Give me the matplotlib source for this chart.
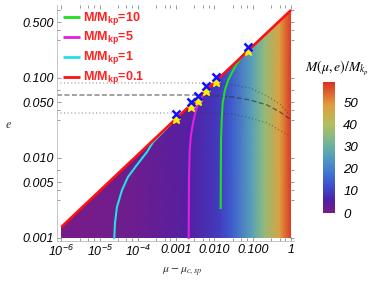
import numpy as np
import matplotlib
matplotlib.use("Agg")
import matplotlib.pyplot as plt
from matplotlib.colors import LinearSegmentedColormap
from matplotlib.patches import Polygon

plt.rcParams['mathtext.fontset'] = 'custom'
plt.rcParams['mathtext.rm'] = 'Liberation Sans:italic'
plt.rcParams['mathtext.it'] = 'Liberation Sans:italic'
plt.rcParams['mathtext.bf'] = 'Liberation Sans:bold'
plt.rcParams['font.family'] = ['Liberation Sans', 'DejaVu Sans']

# ---------------- data ----------------
# boundary (M/M_kp = 0.1 line)
boundary_mu = [1e-6, 1.0]
boundary_e = [0.00137, 0.708]

field_mu = [1e-6, 1e-5, 2.4e-5, 1e-4, 1e-3, 2.1e-3, 1e-2, 1.45e-2, 3e-2, 0.1, 0.2, 0.5, 1.0]
field_M = [0.3, 0.75, 1.0, 1.7, 4.0, 5.0, 9.0, 10.0, 15.0, 27.0, 36.0, 48.0, 59.0]

# contour curves
cyan_mu = [2.42e-5, 2.52e-5, 2.84e-5, 3.85e-5, 5.5e-5, 9.4e-5, 1.73e-4, 2.48e-4, 3.78e-4, 6.89e-4]
cyan_e = [0.001, 0.00154, 0.00244, 0.00398, 0.00579, 0.00818, 0.0119, 0.0158, 0.0194, 0.0259]

magenta_mu = [2.117e-3, 2.158e-3, 2.249e-3, 2.432e-3, 2.748e-3, 3.192e-3, 3.819e-3, 4.864e-3, 6.368e-3, 8.61e-3]
magenta_e = [0.001, 0.00531, 0.01259, 0.01939, 0.02738, 0.03758, 0.0487, 0.05957, 0.07178, 0.08292]

green_mu = [0.01452, 0.01479, 0.01542, 0.01637, 0.01879, 0.02291, 0.03097, 0.04111, 0.05546, 0.07638]
green_e = [0.00237, 0.01679, 0.02985, 0.0487, 0.07079, 0.09441, 0.1259, 0.1585, 0.1939, 0.235]

# dotted / dashed reference curves
dot1_mu = [7.7e-7, 9.7e-3, 0.0304, 0.0845, 0.235, 0.513, 0.935]
dot1_e = [0.0866, 0.0866, 0.0818, 0.075, 0.0595, 0.0473, 0.0345]
dash_mu = [7.7e-7, 4.18e-3, 0.0304, 0.0845, 0.235, 0.513, 0.935]
dash_e = [0.0613, 0.0613, 0.0579, 0.0531, 0.046, 0.0376, 0.0307]
dot2_mu = [7.7e-7, 0.0103, 0.0304, 0.0845, 0.235, 0.615, 0.935]
dot2_e = [0.0365, 0.0365, 0.0355, 0.0316, 0.0274, 0.0211, 0.0188]

# markers
cross_mu = [9.7e-4, 2.43e-3, 3.64e-3, 6.0e-3, 1.09e-2, 7.64e-2]
cross_e = [0.0355, 0.0506, 0.059, 0.080, 0.102, 0.242]
star_e = [0.0309, 0.0440, 0.0513, 0.0696, 0.0887, 0.215]

legend_labels = ['M/M$_{\\mathbf{kp}}$=10', 'M/M$_{\\mathbf{kp}}$=5',
                 'M/M$_{\\mathbf{kp}}$=1', 'M/M$_{\\mathbf{kp}}$=0.1']
legend_colors = ['#22dd22', '#e020e0', '#22e0e8', '#ff1010']

xticks = [1e-6, 1e-5, 1e-4, 1e-3, 1e-2, 1e-1, 1.0]
xticklabels = ['$10^{-6}$', '$10^{-5}$', '$10^{-4}$', '0.001', '0.010', '0.100', '1']
yticks = [0.001, 0.005, 0.01, 0.05, 0.1, 0.5]
yticklabels = ['0.001', '0.005', '0.010', '0.050', '0.100', '0.500']
cbar_ticks = [0, 10, 20, 30, 40, 50]
vmax = 59.5

# ---------------- colormap ----------------
cmap = LinearSegmentedColormap.from_list('mma_rainbow', [
    (0.00, (0.47, 0.11, 0.53)),
    (0.10, (0.30, 0.13, 0.66)),
    (0.20, (0.24, 0.30, 0.80)),
    (0.32, (0.26, 0.48, 0.82)),
    (0.45, (0.35, 0.64, 0.72)),
    (0.55, (0.48, 0.72, 0.56)),
    (0.68, (0.70, 0.75, 0.36)),
    (0.82, (0.88, 0.62, 0.24)),
    (1.00, (0.86, 0.19, 0.14)),
])

W, H = 374, 285
fig = plt.figure(figsize=(W / 100, H / 100), dpi=100)
ax_l, ax_r, ax_t, ax_b = 57, 294, 5, 241
ax = fig.add_axes([ax_l / W, 1 - ax_b / H, (ax_r - ax_l) / W, (ax_b - ax_t) / H])
ax.set_xscale('log')
ax.set_yscale('log')
ax.set_xlim(10 ** -6.112, 10 ** 0.076)
ax.set_ylim(10 ** -3.0375, 10 ** -0.0875)

# field
X = np.array(field_mu)
Y = np.array([0.001, 0.72])
C = np.tile(np.array(field_M), (2, 1))
mesh = ax.pcolormesh(X, Y, C, shading='gouraud', cmap=cmap, vmin=0, vmax=vmax, zorder=1)
clip = Polygon([(boundary_mu[0], 0.001), (boundary_mu[0], boundary_e[0]),
                (boundary_mu[1], boundary_e[1]), (boundary_mu[1], 0.001)],
               closed=True, transform=ax.transData, facecolor='none', edgecolor='none')
ax.add_patch(clip)
mesh.set_clip_path(clip)

# reference curves
ax.plot(dot1_mu, dot1_e, color='#333333', lw=0.8, ls=(0, (1, 2.2)), alpha=0.55, zorder=2)
ax.plot(dash_mu, dash_e, color='#333333', lw=0.9, ls=(0, (4, 2)), alpha=0.7, zorder=2)
ax.plot(dot2_mu, dot2_e, color='#333333', lw=0.8, ls=(0, (1, 2.2)), alpha=0.55, zorder=2)

# contours
ax.plot(cyan_mu, cyan_e, color=legend_colors[2], lw=1.5, zorder=3)
ax.plot(magenta_mu, magenta_e, color=legend_colors[1], lw=1.5, zorder=3)
ax.plot(green_mu, green_e, color=legend_colors[0], lw=1.5, zorder=3)
ax.plot(boundary_mu, boundary_e, color=legend_colors[3], lw=1.9, zorder=4, solid_capstyle='butt')

# markers
ax.plot(cross_mu, star_e, ls='none', marker='*', ms=6.5, color='#ffee00', mec='#ffee00', zorder=5)
ax.plot(cross_mu, cross_e, ls='none', marker='x', ms=5.5, mew=1.8, color='#1010ff', zorder=6)

# ticks
ax.set_xticks(xticks)
ax.set_xticklabels(xticklabels, fontsize=9, fontstyle='italic')
ax.set_yticks(yticks)
ax.set_yticklabels(yticklabels, fontsize=9, fontstyle='italic')
xminor = [m * 10.0 ** d for d in range(-6, 0) for m in (3, 5, 7)]
ax.set_xticks(xminor, minor=True)
ax.set_xticklabels([], minor=True)
yminor = [m * 10.0 ** d for d in range(-3, 0) for m in (3, 4, 7)]
ax.set_yticks([v for v in yminor if v not in yticks], minor=True)
ax.set_yticklabels([], minor=True)
ax.tick_params(which='both', direction='in', top=True, right=True, color='#888888', width=0.6, pad=2)
ax.tick_params(which='major', length=3)
ax.tick_params(which='minor', length=2)
for s in ['left', 'bottom']:
    ax.spines[s].set_color('#bbbbbb')
    ax.spines[s].set_linewidth(0.6)
for s in ['top', 'right']:
    ax.spines[s].set_visible(False)

# legend (manual)
def axfx(px):
    return (px - ax_l) / (ax_r - ax_l)

def axfy(py):
    return (ax_b - py) / (ax_b - ax_t)

line_y = [17.3, 36.7, 56.5, 76.7]
text_y = [20.7, 40.3, 60.0, 80.3]
for lab, col, ly, ty in zip(legend_labels, legend_colors, line_y, text_y):
    ax.plot([axfx(63), axfx(80)], [axfy(ly), axfy(ly)], color=col, lw=2.0,
            transform=ax.transAxes, zorder=7, solid_capstyle='butt')
    ax.text(axfx(83), axfy(ty), lab, color='#ff2020', fontsize=9, fontweight='bold',
            transform=ax.transAxes, va='baseline', ha='left', zorder=7)

# axis labels
fig.text(182 / W, 1 - 272 / H, r'$\mu-\mu_{c,sp}$', math_fontfamily='stix',
         fontsize=8.5, ha='center', va='center', color='#333333')
fig.text(9 / W, 1 - 125 / H, r'$e$', math_fontfamily='stix', fontsize=9,
         ha='center', va='center', color='#333333')

# colorbar
cax = fig.add_axes([323 / W, 1 - 213 / H, 12 / W, 131 / H])
cb = fig.colorbar(mesh, cax=cax, ticks=cbar_ticks)
cb.outline.set_visible(False)
cax.tick_params(length=0, pad=6)
cax.set_yticklabels([str(t) for t in cbar_ticks], fontsize=9.5, fontstyle='italic')
fig.text(337 / W, 1 - 68 / H, r'$M(\mu,e)/M_{k_p}$', math_fontfamily='stix',
         fontsize=9.8, ha='center', va='center')

fig.savefig('out.png', dpi=100)
